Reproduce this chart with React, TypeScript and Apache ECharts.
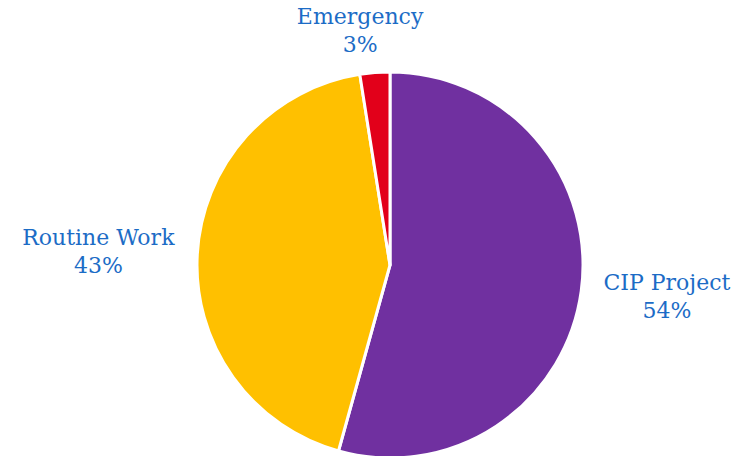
import React, { useEffect, useRef } from "react";
import * as echarts from "echarts";

const categories = ["CIP Project", "Routine Work", "Emergency"];
const values = [54.3, 43.2, 2.5];
const colors = ["#7030A0", "#FFC000", "#E2001A"];

export default function App() {
  const ref = useRef<HTMLDivElement>(null);
  useEffect(() => {
    document.body.style.margin = "0";
    const chart = echarts.init(ref.current!, null, { renderer: "svg" });
    const total = values.reduce((a, b) => a + b, 0);
    chart.setOption({
      animation: false,
      backgroundColor: "#ffffff",
      series: [
        {
          type: "pie",
          center: [390, 265],
          radius: 193,
          startAngle: 90,
          clockwise: true,
          avoidLabelOverlap: false,
          itemStyle: { borderColor: "#ffffff", borderWidth: 3 },
          label: {
            show: true,
            position: "outside",
            fontFamily: "DejaVu Serif",
            fontSize: 22,
            lineHeight: 28,
            color: "#1c6cc6",
            formatter: (p: any) =>
              `${p.name}\n${Math.round((p.value / total) * 100)}%`,
          },
          labelLine: {
            show: true,
            length: 14,
            length2: 0,
            lineStyle: { width: 0, opacity: 0 },
          },
          labelLayout: (p: any) => {
            const pts = p.labelLinePoints;
            if (!pts) return {};
            const [p0, p1] = pts;
            const dx = p1[0] - p0[0];
            const dy = p1[1] - p0[1];
            const len = Math.sqrt(dx * dx + dy * dy) || 1;
            const ux = dx / len;
            const uy = dy / len;
            const w = p.labelRect.width;
            const h = p.labelRect.height;
            return {
              x: p1[0] + ux * (w / 2 + 9) + (Math.abs(ux) < 0.3 ? -8 : 0),
              y: p1[1] + uy * (h / 2),
              align: "center",
              verticalAlign: "middle",
            };
          },
          data: categories.map((name, i) => ({
            name,
            value: values[i],
            itemStyle: { color: colors[i] },
          })),
        },
      ],
    });
    return () => chart.dispose();
  }, []);
  return <div ref={ref} style={{ width: 735, height: 456 }} />;
}
